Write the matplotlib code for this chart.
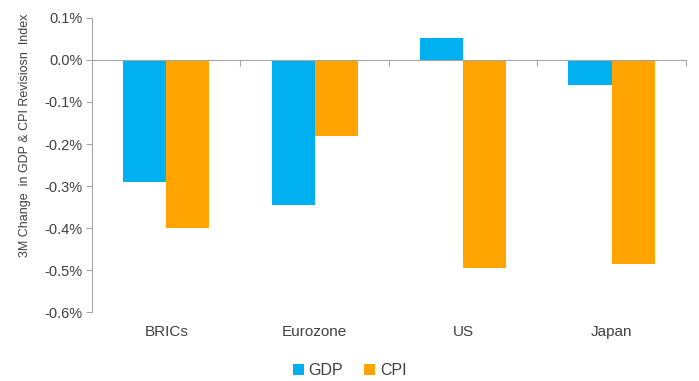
import numpy as np
import matplotlib.pyplot as plt
from matplotlib.ticker import FuncFormatter
from matplotlib.transforms import blended_transform_factory

plt.rcParams['font.family'] = ['Liberation Sans', 'DejaVu Sans']

regions = ['BRICs', 'Eurozone', 'US', 'Japan']
gdp = [-0.29, -0.345, 0.052, -0.06]
cpi = [-0.40, -0.18, -0.495, -0.485]

blue = '#00B0F0'
orange = '#FFA400'
grey = '#A6A6A6'
txt = '#404040'

fig = plt.figure(figsize=(6.99, 3.81), dpi=100)
ax = fig.add_axes([0.1316, 0.181, 0.8494, 0.7718])

x = np.arange(len(regions))
w = 0.29
ax.bar(x - w / 2, gdp, w, color=blue, label='GDP', zorder=2)
ax.bar(x + w / 2, cpi, w, color=orange, label='CPI', zorder=2)

ax.set_xlim(-0.5, 3.5)
ax.set_ylim(-0.6, 0.1)
ax.set_yticks(np.arange(-0.6, 0.11, 0.1))
ax.yaxis.set_major_formatter(FuncFormatter(lambda v, p: f'{abs(v):.1f}%' if abs(v) < 1e-9 else f'{v:.1f}%'))

for s in ['top', 'right']:
    ax.spines[s].set_visible(False)
ax.spines['left'].set_color(grey)
ax.spines['bottom'].set_color(grey)
ax.spines['bottom'].set_position(('data', 0))
ax.spines['bottom'].set_zorder(3)

ax.set_xticks(np.arange(0.5, 4, 1))
ax.set_xticklabels([])
ax.tick_params(axis='x', length=4, color=grey, direction='out')
ax.tick_params(axis='y', length=4, color=grey, labelsize=10.5, labelcolor=txt, pad=3)

tr = blended_transform_factory(ax.transData, ax.transAxes)
for i, r in enumerate(regions):
    ax.text(i, -0.045, r, transform=tr, ha='center', va='top',
            fontsize=11, color=txt)

ax.set_ylabel('3M Change  in GDP & CPI Revisiosn  Index', fontsize=9,
              color=txt)
ax.yaxis.set_label_coords(-0.102, 0.6)

fig.legend(loc='lower center', bbox_to_anchor=(0.5, -0.03), ncol=2,
           frameon=False, fontsize=11.5, handlelength=0.7, handleheight=0.7,
           handletextpad=0.3, columnspacing=1.3, labelcolor=txt)

fig.savefig('out.png', dpi=100)
